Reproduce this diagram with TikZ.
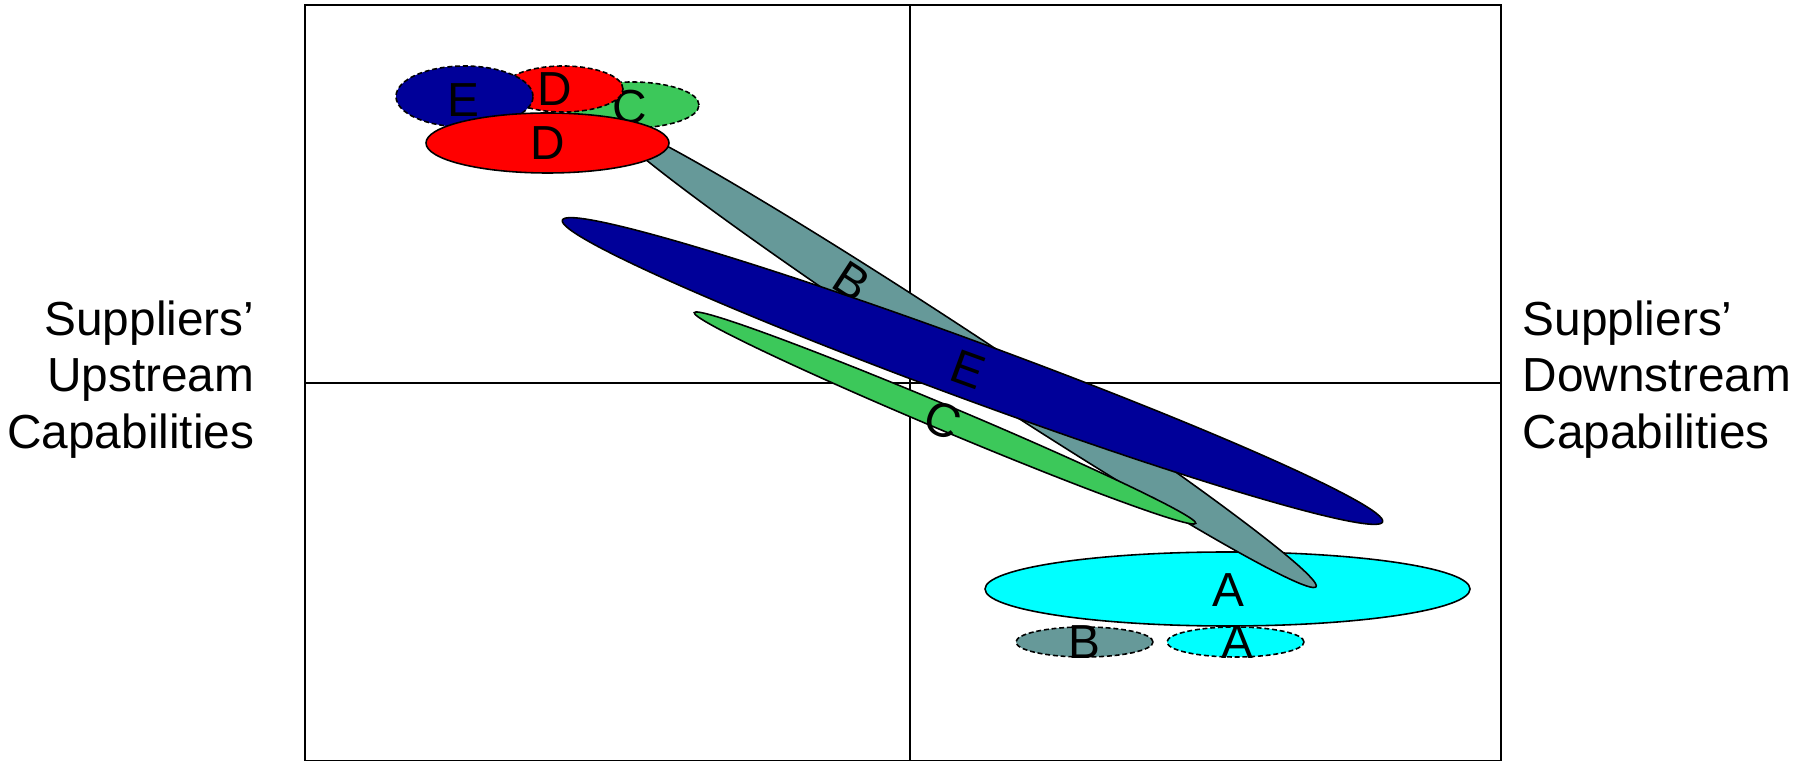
\documentclass[tikz,border=0pt]{standalone}
\usepackage{fontspec}
\setmainfont{Liberation Sans}
\usetikzlibrary{shapes.geometric}
\definecolor{zoneblue}{RGB}{0, 0, 153}
\definecolor{zonegreen}{RGB}{60, 200, 90}
\definecolor{zonegray}{RGB}{102, 153, 153}
\definecolor{zonecyan}{RGB}{0, 255, 255}

\begin{document}
\begin{tikzpicture}[
    zone/.style={ellipse, draw=black, line width=0.45pt, inner sep=0pt},
    oldzone/.style={zone, dash pattern=on 1.4pt off 0.8pt},
    lbl/.style={font=\fontsize{13.6}{16.1}\selectfont, inner sep=0pt}
  ]
  \useasboundingbox (0,0) rectangle (18.07,7.62);

  % Quadrants
  \draw[line width=0.5pt] (3.05,0.015) rectangle (15.01,7.57);
  \draw[line width=0.5pt] (9.10,0.015) -- (9.10,7.57);
  \draw[line width=0.5pt] (3.05,3.79) -- (15.01,3.79);

  % Axis labels
  \node[lbl, align=right, anchor=east] (upstream) at (2.55,3.825) {Suppliers’\\Upstream\\Capabilities};
  \node[lbl, align=left, anchor=west] (downstream) at (15.22,3.825) {Suppliers’\\Downstream\\Capabilities};

  % Earlier positions (dashed)
  \node[oldzone, fill=zonegray, minimum width=1.37cm, minimum height=0.30cm] (oldB) at (10.845,1.20) {};
  \node[lbl] (oldBtxt) at (oldB) {B};
  \node[oldzone, fill=zonecyan, minimum width=1.37cm, minimum height=0.30cm] (oldA) at (12.355,1.20) {};
  \node[lbl] (oldAtxt) at (12.37,1.20) {A};
  \node[oldzone, fill=zonegreen, minimum width=1.34cm, minimum height=0.46cm] (oldC) at (6.32,6.57) {};
  \node[lbl] (oldCtxt) at (6.30,6.55) {C};
  \node[oldzone, fill=red, minimum width=1.20cm, minimum height=0.46cm] (oldD) at (5.63,6.73) {};
  \node[lbl] (oldDtxt) at (5.55,6.73) {D};
  \node[oldzone, fill=zoneblue, minimum width=1.37cm, minimum height=0.61cm] (oldE) at (4.645,6.655) {};
  \node[lbl] (oldEtxt) at (4.63,6.62) {E};

  % Current positions
  \node[zone, fill=zonecyan, minimum width=4.85cm, minimum height=0.74cm] (A) at (12.275,1.73) {};
  \node[lbl] (Atxt) at (12.28,1.72) {A};
  \node[zone, fill=zonegray, minimum width=8.46cm, minimum height=0.46cm, rotate=-33.3] (B) at (9.625,4.075) {};
  \node[lbl, rotate=-33] (Btxt) at (8.52,4.81) {B};
  \node[zone, fill=zonegreen, minimum width=5.44cm, minimum height=0.25cm, rotate=-22.8] (C) at (9.45,3.44) {};
  \node[lbl, rotate=-23] (Ctxt) at (9.43,3.42) {C};
  \node[zone, fill=red, minimum width=2.43cm, minimum height=0.60cm] (D) at (5.475,6.19) {};
  \node[lbl] (Dtxt) at (D) {D};
  \node[zone, fill=zoneblue, minimum width=8.74cm, minimum height=0.58cm, rotate=-20.2] (E) at (9.725,3.91) {};
  \node[lbl, rotate=-20] (Etxt) at (9.68,3.92) {E};
\end{tikzpicture}
\end{document}
